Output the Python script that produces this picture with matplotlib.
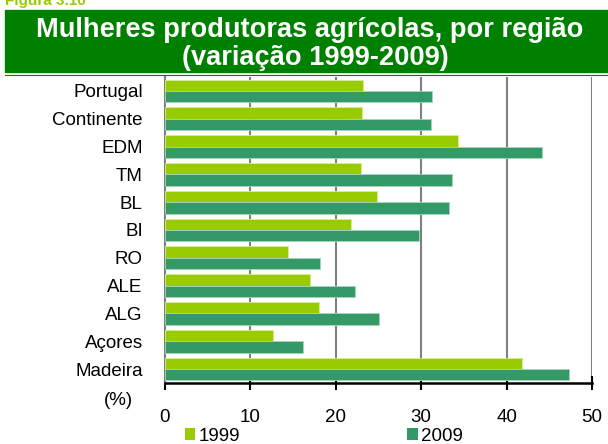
import matplotlib.pyplot as plt
from matplotlib.patches import Patch, Rectangle
import numpy as np

plt.rcParams['font.family'] = ['Liberation Sans', 'DejaVu Sans']

regioes = ["Portugal", "Continente", "EDM", "TM", "BL", "BI", "RO",
           "ALE", "ALG", "Açores", "Madeira"]
v1999 = [23.2, 23.1, 34.3, 23.0, 24.8, 21.8, 14.4, 17.0, 18.0, 12.7, 41.8]
v2009 = [31.3, 31.1, 44.2, 33.6, 33.2, 29.7, 18.2, 22.3, 25.0, 16.2, 47.3]
xticks = [0, 10, 20, 30, 40, 50]

cor1999 = "#99cc00"
cor2009 = "#339966"

fig = plt.figure(figsize=(6.08, 4.44), dpi=100)

# faixa verde do titulo
fig.patches.append(Rectangle((5 / 608, 1 - 72 / 444), 603 / 608, 62 / 444,
                             transform=fig.transFigure, color="#008000", zorder=0))
fig.add_artist(plt.Line2D([5 / 608, 1], [1 - 75 / 444] * 2, color="#008000",
                          lw=0.8, transform=fig.transFigure))
fig.text(5 / 608, 1 - 1 / 444, "Figura 3.10", color=cor1999, fontsize=11,
         fontweight="bold", ha="left", va="center")
fig.text(310 / 608, 1 - 30 / 444, "Mulheres produtoras agrícolas, por região",
         color="white", fontsize=19.6, fontweight="bold", ha="center", va="center")
fig.text(315 / 608, 1 - 58 / 444, "(variação 1999-2009)",
         color="white", fontsize=19.6, fontweight="bold", ha="center", va="center")

ax = fig.add_axes([165 / 608, 61 / 444, 427 / 608, 306 / 444])

y = np.arange(len(regioes))
h = 0.41
ax.barh(y - h / 2, v1999, height=h, color=cor1999, edgecolor="#d8ee99",
        linewidth=0.6, zorder=3)
ax.barh(y + h / 2, v2009, height=h, color=cor2009, edgecolor="#a8d4bc",
        linewidth=0.6, zorder=3)

ax.set_xlim(0, 50)
ax.set_ylim(len(regioes) - 0.5, -0.5)
ax.set_yticks(y)
ax.set_yticklabels(regioes, fontsize=13.5)
ax.tick_params(axis="y", length=0, pad=16)
ax.set_xticks(xticks)
ax.set_xticklabels([str(t) for t in xticks], fontsize=13.5)
ax.tick_params(axis="x", direction="inout", length=10, width=1.5, pad=14)

for x in xticks[1:]:
    ax.axvline(x, color="#808080", lw=1.5, zorder=1)

for s in ["top", "right"]:
    ax.spines[s].set_visible(False)
ax.spines["left"].set_color("#808080")
ax.spines["left"].set_linewidth(1.5)
ax.spines["bottom"].set_linewidth(1.8)

fig.text(118 / 608, 1 - 400 / 444, "(%)", fontsize=13.5, ha="center", va="center")

handles = [Patch(facecolor=cor1999, label="1999"),
           Patch(facecolor=cor2009, label="2009")]
fig.legend(handles=handles, loc="center left", bbox_to_anchor=(185 / 608, 1 - 436 / 444),
           ncol=2, frameon=False, fontsize=13.5, handlelength=0.55, handleheight=0.55,
           handletextpad=0.2, columnspacing=8.9, borderpad=0, borderaxespad=0)

fig.savefig("out.png", dpi=100)
